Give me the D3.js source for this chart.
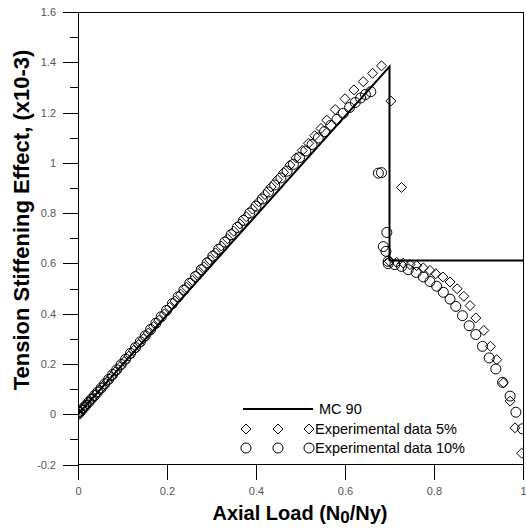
<!DOCTYPE html>
<html><head><meta charset="utf-8">
<script src="https://cdn.jsdelivr.net/npm/d3@7"></script>
<style>body{margin:0;background:#fff}svg{display:block}</style>
</head><body>
<svg id="c" width="526" height="530"></svg>
<script>
// ---- data ----
const mcX = [0, 0.70, 0.70, 1.0];
const mcY = [0, 1.383, 0.611, 0.611];

const exp5X = [0.000,0.005,0.010,0.015,0.021,0.027,0.034,0.041,0.049,0.057,0.066,0.075,0.084,0.094,0.104,0.114,0.125,0.136,0.147,0.158,0.170,0.182,0.194,0.206,0.218,0.231,0.244,0.257,0.270,0.283,0.296,0.309,0.322,0.336,0.350,0.364,0.378,0.392,0.406,0.420,0.434,0.448,0.462,0.476,0.490,0.504,0.518,0.532,0.546,0.559,0.578,0.600,0.620,0.641,0.662,0.682,0.703,0.727,0.700,0.716,0.731,0.746,0.761,0.776,0.791,0.804,0.820,0.836,0.852,0.867,0.881,0.894,0.912,0.927,0.941,0.956,0.971,0.982,0.997];
const exp5Y = [0.000,0.009,0.019,0.029,0.041,0.053,0.067,0.081,0.097,0.113,0.131,0.150,0.169,0.189,0.210,0.231,0.254,0.277,0.300,0.323,0.349,0.374,0.399,0.425,0.450,0.477,0.505,0.532,0.560,0.587,0.614,0.642,0.669,0.698,0.728,0.757,0.786,0.816,0.845,0.874,0.904,0.933,0.962,0.991,1.020,1.049,1.078,1.108,1.137,1.170,1.212,1.255,1.290,1.323,1.356,1.386,1.246,0.902,0.608,0.604,0.601,0.595,0.591,0.582,0.572,0.559,0.546,0.526,0.499,0.469,0.432,0.383,0.333,0.270,0.217,0.125,0.052,-0.054,-0.155];

const exp10X = [0.000,0.004,0.008,0.013,0.018,0.024,0.030,0.037,0.044,0.052,0.060,0.069,0.078,0.087,0.097,0.107,0.118,0.129,0.140,0.151,0.163,0.175,0.187,0.199,0.212,0.225,0.238,0.251,0.264,0.277,0.290,0.303,0.316,0.330,0.344,0.358,0.372,0.386,0.400,0.414,0.428,0.442,0.456,0.470,0.484,0.498,0.512,0.526,0.540,0.554,0.568,0.582,0.596,0.610,0.623,0.635,0.646,0.658,0.675,0.682,0.694,0.686,0.692,0.697,0.697,0.712,0.727,0.742,0.760,0.776,0.791,0.806,0.821,0.836,0.849,0.864,0.879,0.894,0.909,0.924,0.939,0.954,0.971,0.984,0.999];
const exp10Y = [0.000,0.008,0.016,0.026,0.036,0.048,0.060,0.074,0.088,0.104,0.121,0.139,0.158,0.177,0.198,0.219,0.242,0.265,0.288,0.312,0.337,0.362,0.388,0.413,0.440,0.467,0.494,0.521,0.548,0.575,0.602,0.629,0.656,0.685,0.714,0.743,0.771,0.800,0.828,0.856,0.884,0.912,0.940,0.967,0.994,1.021,1.047,1.073,1.099,1.124,1.149,1.173,1.197,1.220,1.240,1.258,1.272,1.283,0.959,0.961,0.723,0.667,0.648,0.608,0.599,0.595,0.588,0.575,0.564,0.546,0.528,0.509,0.485,0.458,0.429,0.392,0.352,0.317,0.270,0.224,0.180,0.127,0.072,0.008,-0.058];

const xTicks = [0, 0.2, 0.4, 0.6, 0.8, 1];
const xTickLabels = ["0", "0.2", "0.4", "0.6", "0.8", "1"];
const yTicks = [-0.2, 0, 0.2, 0.4, 0.6, 0.8, 1, 1.2, 1.4, 1.6];
const yTickLabels = ["-0.2", "0", "0.2", "0.4", "0.6", "0.8", "1", "1.2", "1.4", "1.6"];
const yMinor = [-0.1, 0.1, 0.3, 0.5, 0.7, 0.9, 1.1, 1.3, 1.5];

const legendLabels = ["MC 90", "Experimental data 5%", "Experimental data 10%"];
const xTitle = "Axial Load (N";
const yTitle = "Tension Stiffening Effect, (x10-3)";

// ---- layout ----
const L = 78, R = 523, T = 12, B = 464.5;
const FONT = "Arial, 'Liberation Sans', sans-serif";
const svg = d3.select("#c");
const x = d3.scaleLinear().domain([0, 1]).range([L, R]);
const y = d3.scaleLinear().domain([-0.2, 1.6]).range([B, T]);

svg.append("defs").append("clipPath").attr("id", "clip")
  .append("rect").attr("x", L).attr("y", T).attr("width", R - L).attr("height", B - T);

// frame
svg.append("rect").attr("x", L).attr("y", T).attr("width", R - L).attr("height", B - T)
  .attr("fill", "none").attr("stroke", "#000").attr("stroke-width", 1).attr("shape-rendering", "crispEdges");

// axes
const yAx = svg.append("g").attr("transform", `translate(${L},0)`)
  .call(d3.axisLeft(y).tickValues(yTicks).tickSize(15).tickSizeOuter(0).tickPadding(7)
    .tickFormat((d, i) => yTickLabels[i]));
yAx.select(".domain").remove();
const yAxMinor = svg.append("g").attr("transform", `translate(${L},0)`)
  .call(d3.axisLeft(y).tickValues(yMinor).tickSize(8).tickSizeOuter(0).tickFormat(""));
yAxMinor.select(".domain").remove();

const xAx = svg.append("g").attr("transform", `translate(0,${B})`)
  .call(d3.axisBottom(x).tickValues(xTicks).tickSize(15).tickSizeOuter(0).tickPadding(8)
    .tickFormat((d, i) => xTickLabels[i]));
xAx.select(".domain").remove();

svg.selectAll(".tick line").attr("stroke", "#000").attr("shape-rendering", "crispEdges");
svg.selectAll(".tick text").attr("fill", "#555").style("font-family", FONT).style("font-size", "11px");

// titles
const xt = svg.append("text").attr("x", 300).attr("y", 520).attr("text-anchor", "middle")
  .style("font-family", FONT).style("font-size", "20px").style("font-weight", "bold").attr("fill", "#000");
xt.append("tspan").text(xTitle);
xt.append("tspan").attr("dy", 3).style("font-size", "17px").text("0");
xt.append("tspan").attr("dy", -3).text("/Ny)");

svg.append("text").attr("transform", "translate(29,220) rotate(-90)").attr("text-anchor", "middle")
  .style("font-family", FONT).style("font-size", "22px").style("font-weight", "bold").attr("fill", "#000")
  .text(yTitle);

// data
const plot = svg.append("g").attr("clip-path", "url(#clip)");
const mc = mcX.map((d, i) => [d, mcY[i]]);
plot.append("path").datum(mc)
  .attr("d", d3.line().x(d => x(d[0])).y(d => y(d[1])))
  .attr("fill", "none").attr("stroke", "#000").attr("stroke-width", 2);

const dia = "M0,-5L5,0L0,5L-5,0Z";
plot.selectAll(".d5").data(exp5X.map((d, i) => [d, exp5Y[i]])).join("path")
  .attr("d", dia).attr("transform", d => `translate(${x(d[0])},${y(d[1])})`)
  .attr("fill", "none").attr("stroke", "#000").attr("stroke-width", 1);
plot.selectAll(".c10").data(exp10X.map((d, i) => [d, exp10Y[i]])).join("circle")
  .attr("cx", d => x(d[0])).attr("cy", d => y(d[1])).attr("r", 5)
  .attr("fill", "none").attr("stroke", "#000").attr("stroke-width", 1);

// legend
const lg = svg.append("g");
lg.append("line").attr("x1", 243).attr("x2", 313).attr("y1", 409).attr("y2", 409)
  .attr("stroke", "#000").attr("stroke-width", 2);
[246, 278, 309].forEach(px => {
  lg.append("path").attr("d", dia).attr("transform", `translate(${px},429)`)
    .attr("fill", "none").attr("stroke", "#000");
  lg.append("circle").attr("cx", px).attr("cy", 448).attr("r", 5)
    .attr("fill", "none").attr("stroke", "#000");
});
const ly = [414, 434, 453], lx = [319, 315, 315];
legendLabels.forEach((t, i) => {
  lg.append("text").attr("x", lx[i]).attr("y", ly[i]).text(t)
    .style("font-family", FONT).style("font-size", "14.5px").attr("fill", "#000");
});
</script>
</body></html>
